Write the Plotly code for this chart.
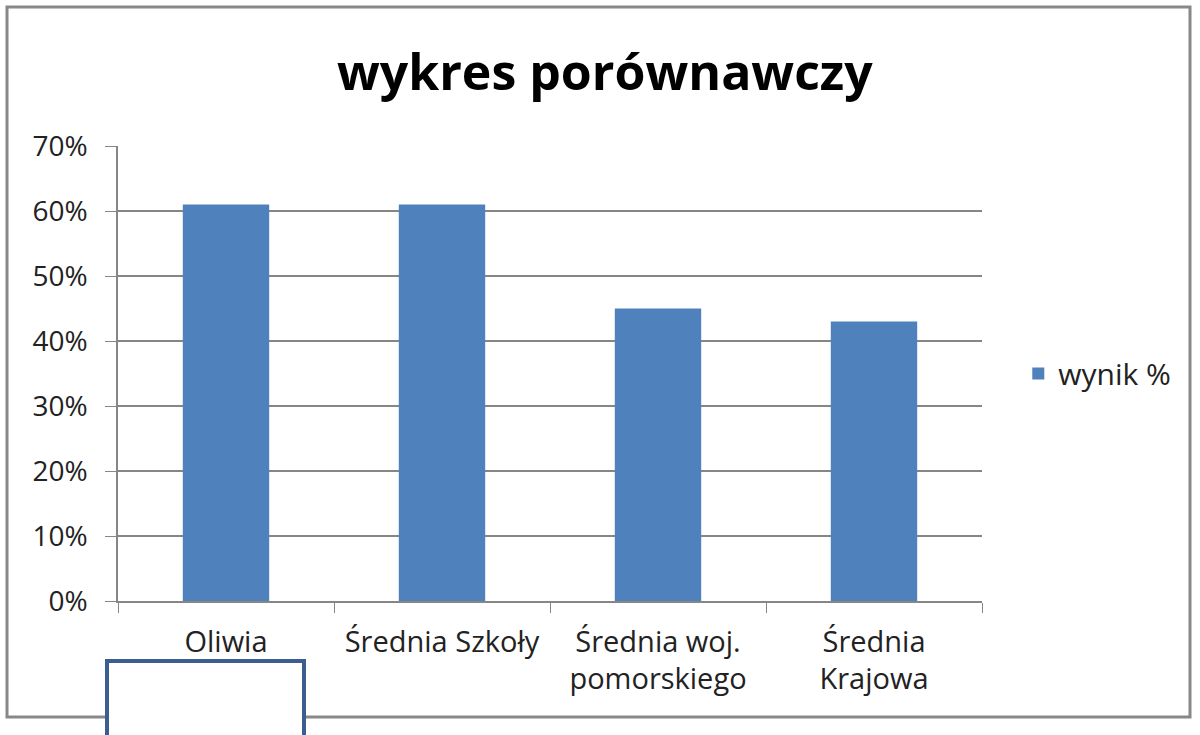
import plotly.graph_objects as go

categories = ["Oliwia", "Średnia Szkoły", "Średnia woj.<br>pomorskiego", "Średnia<br>Krajowa"]
values = [0.61, 0.61, 0.45, 0.43]
series_name = "wynik %"
y_ticks = [0, 0.1, 0.2, 0.3, 0.4, 0.5, 0.6, 0.7]
y_labels = ["0%", "10%", "20%", "30%", "40%", "50%", "60%", "70%"]

FONT = "Open Sans"
fig = go.Figure()
fig.add_trace(go.Bar(x=categories, y=values, name=series_name,
                     marker=dict(color="#4f81bd", line=dict(width=0))))

fig.update_layout(
    width=1200, height=735,
    paper_bgcolor="white", plot_bgcolor="white",
    margin=dict(l=118, r=218, t=146, b=134),
    bargap=0.6,
    showlegend=True,
    title=dict(text="<b>wykres porównawczy</b>", x=0.504, xanchor="center",
               y=0.902, yanchor="middle",
               font=dict(family=FONT, size=50, color="#000000")),
    legend=dict(x=1.042, y=0.5, xanchor="left", yanchor="middle",
                font=dict(family=FONT, size=30, color="#222222"),
                itemwidth=30, traceorder="normal"),
    font=dict(family=FONT, size=27, color="#222222"),
)
fig.update_xaxes(type="category", showline=True, linecolor="#868686", linewidth=1.5,
                 ticks="outside", tickson="boundaries", ticklen=10, tickcolor="#868686",
                 ticklabelstandoff=14,
                 showgrid=False, tickfont=dict(family=FONT, size=29, color="#222222"))
fig.update_yaxes(range=[0, 0.7], tickvals=y_ticks, ticktext=y_labels,
                 showline=True, linecolor="#868686", linewidth=1.5,
                 ticks="outside", ticklen=11, tickcolor="#868686",
                 ticklabelstandoff=12,
                 showgrid=True, gridcolor="#868686", gridwidth=1.5, zeroline=False,
                 tickfont=dict(family=FONT, size=28, color="#222222"))

# outer chart border
fig.add_shape(type="rect", xref="paper", yref="paper",
              x0=-111/864, x1=1072/864, y0=-(717-601)/455, y1=(601-7)/455,
              line=dict(color="#888888", width=3), fillcolor="rgba(0,0,0,0)", layer="below")
# dark blue box at the bottom
fig.add_shape(type="rect", xref="paper", yref="paper",
              x0=(107-118)/864, x1=(304-118)/864, y0=-(740-601)/455, y1=-(661-601)/455,
              line=dict(color="#3a5f8f", width=4), fillcolor="white", layer="above")

fig.write_html("out.html", config={"displayModeBar": False},
               post_script="document.body.style.margin='0px';")
